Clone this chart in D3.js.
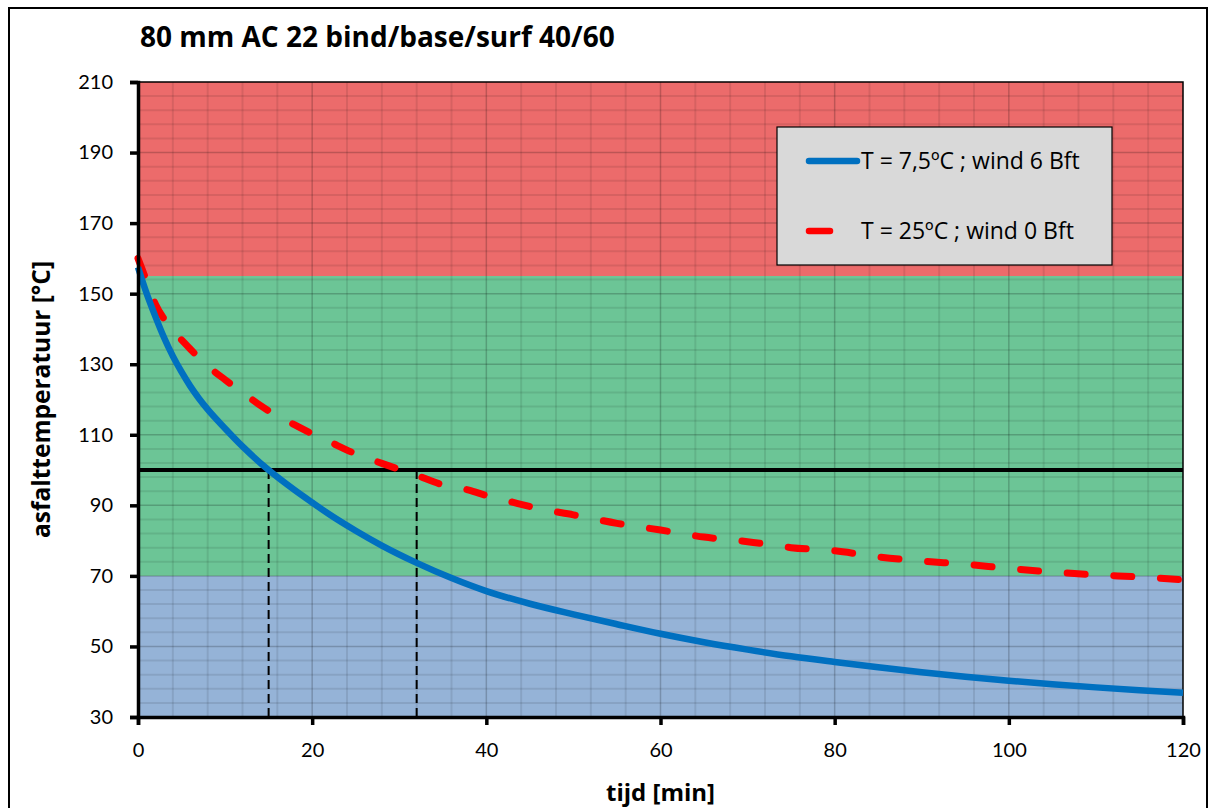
<!DOCTYPE html>
<html>
<head>
<meta charset="utf-8">
<script src="https://cdn.jsdelivr.net/npm/d3@7"></script>
<style>
  html, body { margin: 0; padding: 0; background: #fff; }
  svg { display: block; font-family: "Open Sans", Lato, sans-serif; }
</style>
</head>
<body>
<div id="chart"></div>
<script>
// chart values
const title = '80 mm AC 22 bind/base/surf 40/60';
const xLabel = 'tijd [min]';
const yLabel = 'asfalttemperatuur [°C]';

const xTicks = [0, 20, 40, 60, 80, 100, 120];
const yTicks = [30, 50, 70, 90, 110, 130, 150, 170, 190, 210];

const bandFrom = [30, 70, 155];
const bandTo = [70, 155, 210];
const bandColors = ['#95b3d7', '#6cc596', '#ec6b6b'];

const blueName = 'T = 7,5ºC ; wind 6 Bft';
const blueTime = [0, 1, 2, 3, 4, 5, 6, 7, 8, 10, 12, 15, 18, 20, 22, 25, 28, 32, 36, 40, 45, 50, 55, 60, 65, 70, 75, 80, 85, 90, 95, 100, 105, 110, 115, 120];
const blueTemp = [157.5, 150, 143.5, 137.5, 132.3, 127.8, 123.8, 120.3, 117.2, 111.8, 106.7, 100, 94.3, 90.8, 87.4, 82.8, 78.6, 73.7, 69.4, 65.7, 62.1, 59.1, 56.3, 53.6, 51.2, 49.1, 47.2, 45.6, 44.1, 42.7, 41.4, 40.3, 39.3, 38.4, 37.6, 36.9];

const redName = 'T = 25ºC ; wind 0 Bft';
const redTime = [0, 1, 2, 3, 4, 5, 6, 8, 10, 12, 14, 16, 18, 20, 22, 25, 28, 30, 32, 35, 38, 40, 43, 46, 50, 55, 60, 65, 70, 75, 80, 85, 90, 95, 100, 105, 110, 115, 120];
const redTemp = [160, 153.5, 147, 142.8, 139.5, 136.9, 134.3, 129.5, 125.6, 122, 118.4, 115.3, 112.8, 110.3, 108, 104.6, 101.9, 100.2, 98.5, 95.8, 94.3, 92.8, 90.9, 89.1, 87.3, 84.9, 83, 81, 79.7, 78, 77.1, 75.4, 74.2, 73.3, 72.1, 71.1, 70.3, 69.7, 68.9];

const limitTemp = 100;
const dropTimes = [15, 32];

const width = 1209, height = 808;
const margin = {top: 82, right: 26, bottom: 91, left: 138};
const w = width - margin.left - margin.right;
const h = height - margin.top - margin.bottom;

const svg = d3.select('#chart').append('svg')
  .attr('width', width)
  .attr('height', height);

svg.append('rect')
  .attr('width', width).attr('height', height)
  .attr('fill', '#fff');

// outer chart frame
svg.append('rect')
  .attr('x', 9).attr('y', 8)
  .attr('width', 1198).attr('height', 840)
  .attr('fill', 'none')
  .attr('stroke', '#000')
  .attr('stroke-width', 2);

svg.append('text')
  .attr('x', 140).attr('y', 47)
  .attr('font-size', 28)
  .attr('font-weight', 'bold')
  .attr('fill', '#000')
  .text(title);

const g = svg.append('g')
  .attr('transform', 'translate(' + margin.left + ',' + margin.top + ')');

const x = d3.scaleLinear().domain([0, 120]).range([0, w]);
const y = d3.scaleLinear().domain([30, 210]).range([h, 0]);

// coloured zones
g.selectAll('.band')
  .data(bandFrom)
  .enter().append('rect')
  .attr('class', 'band')
  .attr('x', 0)
  .attr('width', w)
  .attr('y', (d, i) => y(bandTo[i]))
  .attr('height', (d, i) => y(d) - y(bandTo[i]))
  .attr('fill', (d, i) => bandColors[i]);

// minor grid every 4, major every 20
const minorX = d3.range(0, 121, 4).filter(d => d % 20 !== 0);
const minorY = d3.range(30, 211, 4).filter(d => (d - 30) % 20 !== 0);

g.selectAll('.minor-x')
  .data(minorX)
  .enter().append('line')
  .attr('x1', d => x(d)).attr('x2', d => x(d))
  .attr('y1', 0).attr('y2', h)
  .attr('stroke', 'rgba(0,0,0,0.09)')
  .attr('stroke-width', 2);

g.selectAll('.minor-y')
  .data(minorY)
  .enter().append('line')
  .attr('x1', 0).attr('x2', w)
  .attr('y1', d => y(d)).attr('y2', d => y(d))
  .attr('stroke', 'rgba(0,0,0,0.09)')
  .attr('stroke-width', 2);

g.selectAll('.major-x')
  .data(xTicks.slice(1, -1))
  .enter().append('line')
  .attr('x1', d => x(d)).attr('x2', d => x(d))
  .attr('y1', 0).attr('y2', h)
  .attr('stroke', 'rgba(0,0,0,0.2)')
  .attr('stroke-width', 1.5);

g.selectAll('.major-y')
  .data(yTicks.slice(1, -1))
  .enter().append('line')
  .attr('x1', 0).attr('x2', w)
  .attr('y1', d => y(d)).attr('y2', d => y(d))
  .attr('stroke', 'rgba(0,0,0,0.2)')
  .attr('stroke-width', 1.5);

// threshold line and drop lines
g.selectAll('.drop')
  .data(dropTimes)
  .enter().append('line')
  .attr('x1', d => x(d)).attr('x2', d => x(d))
  .attr('y1', y(limitTemp)).attr('y2', h)
  .attr('stroke', '#000')
  .attr('stroke-width', 2)
  .attr('stroke-dasharray', '9,5');

g.append('line')
  .attr('x1', 0).attr('x2', w)
  .attr('y1', y(limitTemp)).attr('y2', y(limitTemp))
  .attr('stroke', '#000')
  .attr('stroke-width', 4);

// plot frame
g.append('rect')
  .attr('width', w).attr('height', h)
  .attr('fill', 'none')
  .attr('stroke', '#000')
  .attr('stroke-width', 1.5);

const line = d3.line()
  .x(d => x(d[0]))
  .y(d => y(d[1]))
  .curve(d3.curveMonotoneX);

g.append('path')
  .datum(redTime.map((t, i) => [t, redTemp[i]]))
  .attr('d', line)
  .attr('fill', 'none')
  .attr('stroke', '#ff0000')
  .attr('stroke-width', 7)
  .attr('stroke-linecap', 'round')
  .attr('stroke-dasharray', '18,28.7');

g.append('path')
  .datum(blueTime.map((t, i) => [t, blueTemp[i]]))
  .attr('d', line)
  .attr('fill', 'none')
  .attr('stroke', '#0070c0')
  .attr('stroke-width', 6.5);

// axes
const xAxis = g.append('g')
  .attr('transform', 'translate(0,' + h + ')')
  .call(d3.axisBottom(x).tickValues(xTicks).tickSize(8).tickPadding(18).tickFormat(d3.format('d')));

const yAxis = g.append('g')
  .call(d3.axisLeft(y).tickValues(yTicks).tickSize(8).tickPadding(17).tickFormat(d3.format('d')));

[xAxis, yAxis].forEach(a => {
  a.select('.domain').attr('stroke', '#000').attr('stroke-width', 3.5);
  a.selectAll('.tick line').attr('stroke', '#000').attr('stroke-width', 3.5);
  a.selectAll('.tick text')
    .attr('font-family', 'Lato, "Open Sans", sans-serif')
    .attr('font-size', 20)
    .attr('fill', '#000');
});

svg.append('text')
  .attr('x', margin.left + w / 2)
  .attr('y', 801)
  .attr('text-anchor', 'middle')
  .attr('font-size', 24)
  .attr('font-weight', 'bold')
  .text(xLabel);

svg.append('text')
  .attr('transform', 'translate(50,' + (margin.top + h / 2) + ') rotate(-90)')
  .attr('text-anchor', 'middle')
  .attr('font-size', 24.5)
  .attr('font-weight', 'bold')
  .text(yLabel);

// legend
const legend = svg.append('g').attr('transform', 'translate(777,127)');
legend.append('rect')
  .attr('width', 335).attr('height', 138)
  .attr('fill', '#d9d9d9')
  .attr('stroke', '#000')
  .attr('stroke-width', 1.2);

const legendItems = [
  {name: blueName, color: '#0070c0', dash: null, dy: 34},
  {name: redName, color: '#ff0000', dash: '18,28.7', dy: 104}
];

legendItems.forEach(it => {
  legend.append('line')
    .attr('x1', 32).attr('x2', it.dash ? 53 : 80)
    .attr('y1', it.dy).attr('y2', it.dy)
    .attr('stroke', it.color)
    .attr('stroke-width', 6.5)
    .attr('stroke-linecap', 'round');
  legend.append('text')
    .attr('x', 84).attr('y', it.dy + 8)
    .attr('font-size', 23)
    .attr('fill', '#000')
    .text(it.name);
});
</script>
</body>
</html>
